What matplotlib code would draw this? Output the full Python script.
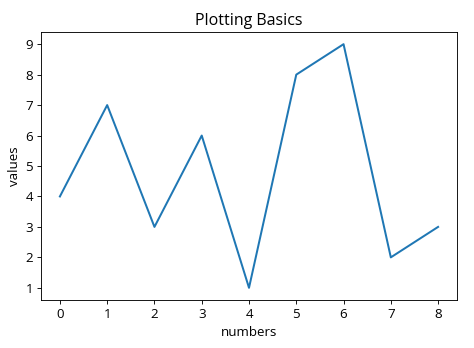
import matplotlib.pyplot as plt

plt.rcParams['font.family'] = ['Open Sans', 'DejaVu Sans']
plt.rcParams['font.size'] = 12

# Data
numbers = [0, 1, 2, 3, 4, 5, 6, 7, 8]
values = [4, 7, 3, 6, 1, 8, 9, 2, 3]

fig = plt.figure(figsize=(474 / 80, 348 / 80), dpi=80)
ax = fig.add_axes([41 / 474, 48 / 348, 416 / 474, 268 / 348])
ax.plot(numbers, values, linewidth=1.8)
ax.set_title('Plotting Basics', pad=6)
ax.set_xlabel('numbers', labelpad=5)
ax.set_ylabel('values', labelpad=4)
fig.savefig('out.png', dpi=80)
